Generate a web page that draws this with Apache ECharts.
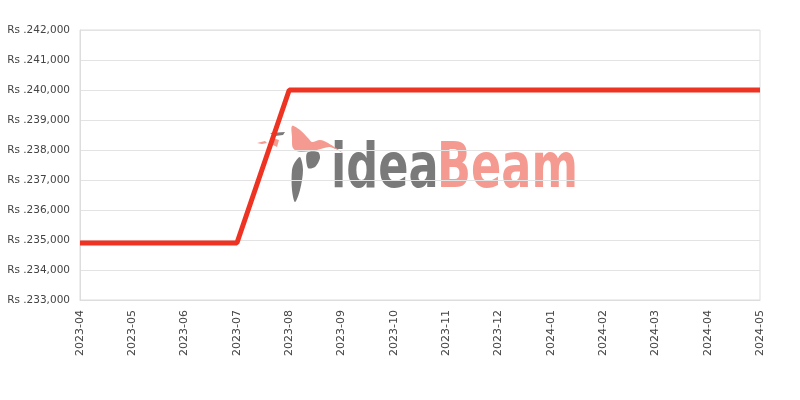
<!DOCTYPE html>
<html><head><meta charset="utf-8">
<script src="https://cdn.jsdelivr.net/npm/echarts@6/dist/echarts.min.js"></script>
<style>html,body{margin:0;padding:0;background:#fff}#c{width:800px;height:400px}</style>
</head><body><div id="c"></div>
<script>
const categories = ['2023-04','2023-05','2023-06','2023-07','2023-08','2023-09','2023-10','2023-11','2023-12','2024-01','2024-02','2024-03','2024-04','2024-05'];
const prices = [234900,234900,234900,234900,240000,240000,240000,240000,240000,240000,240000,240000,240000,240000];
const yMin = 233000, yMax = 242000, yStep = 1000;

const chart = echarts.init(document.getElementById('c'), null, {renderer:'canvas'});
const fmt = v => 'Rs .' + v.toLocaleString('en-US');
const salmon = '#f59a90', grey = '#7a7a7a';
chart.setOption({
  animation:false,
  grid:{left:80,right:40,top:30,bottom:100,show:true,borderColor:'#dddddd',borderWidth:1},
  xAxis:{type:'category',data:categories,boundaryGap:false,
    axisLine:{lineStyle:{color:'#dddddd'}},axisTick:{show:false},
    axisLabel:{rotate:90,color:'#444',fontFamily:'DejaVu Sans',fontSize:11,margin:10,interval:0},
    splitLine:{show:false}},
  yAxis:{type:'value',min:yMin,max:yMax,interval:yStep,
    axisLine:{show:true,lineStyle:{color:'#dddddd'}},axisTick:{show:false},
    axisLabel:{formatter:fmt,color:'#444',fontFamily:'DejaVu Sans',fontSize:10.5,margin:10},
    splitLine:{lineStyle:{color:'#e3e3e3'}}},
  graphic:[
    {type:'text',x:331,y:140,scaleX:0.72,z:-1,style:{text:'idea',fill:grey,font:'bold 62px "DejaVu Sans"',verticalAlign:'top'}},
    {type:'text',x:437,y:140,scaleX:0.72,z:-1,style:{text:'Beam',fill:salmon,font:'bold 62px "DejaVu Sans"',verticalAlign:'top'}},
    {type:'polygon',z:-1,shape:{smooth:0.3,points:[[292,126],[300,130],[308,138],[312,142],[320,140],[328,143],[343,153],[330,147],[317,150],[300,152],[293,148],[292,137]]},style:{fill:salmon}},
    {type:'polygon',z:-1,shape:{smooth:0.3,points:[[307,153],[318,152],[320,158],[315,167],[308,168]]},style:{fill:grey}},
    {type:'polygon',z:-1,shape:{smooth:0.3,points:[[300,157],[303,170],[300,190],[295,202],[292,190],[292,170],[295,162]]},style:{fill:grey}},
    {type:'polygon',z:-1,shape:{points:[[257,143],[265,141],[267,143],[262,144]]},style:{fill:salmon}},
    {type:'polygon',z:-1,shape:{points:[[270,133],[285,132],[283,135],[275,136]]},style:{fill:grey}},
    {type:'polygon',z:-1,shape:{points:[[273,138],[279,140],[277,147],[273,145]]},style:{fill:salmon}}
  ],
  series:[{type:'line',data:prices,symbol:'none',lineStyle:{color:'#ee3322',width:5},z:5}]
});
</script></body></html>
